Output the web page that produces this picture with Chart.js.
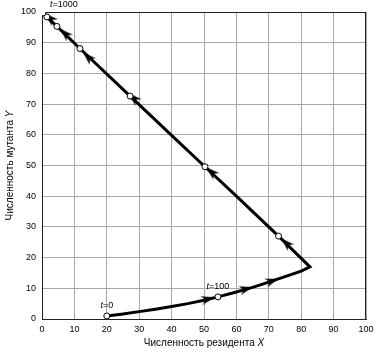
<!DOCTYPE html>
<html>
<head>
<meta charset="utf-8">
<script src="https://cdn.jsdelivr.net/npm/chart.js@4.4.1/dist/chart.umd.min.js"></script>
<style>
html,body{margin:0;padding:0;background:#fff;}
#wrap{width:382px;height:357px;position:relative;}
</style>
</head>
<body>
<div id="wrap"><canvas id="c"></canvas></div>
<script>
// Trajectory (resident X, mutant Y)
const trajX = [20, 25, 30, 35, 40, 45, 50, 54.3, 60, 65, 70, 75, 80, 82.7, 73, 60, 50.3, 40, 27.2, 11.7, 4.6, 1.5, 0.3];
const trajY = [1.0, 1.6, 2.4, 3.2, 4.1, 5.0, 6.1, 7.2, 8.8, 10.3, 12.0, 13.8, 15.6, 17.0, 27.0, 40.0, 49.6, 59.8, 72.6, 88.1, 95.3, 98.4, 99.7];
// Open-circle markers
const markX = [20, 54.3, 73, 50.3, 27.2, 11.7, 4.6, 1.5, 0.3];
const markY = [1.0, 7.2, 27.0, 49.6, 72.6, 88.1, 95.3, 98.4, 99.7];
// Arrowheads along the trajectory
const arrowX = [51.2, 63, 71, 75.4, 52.3, 28.3, 14.2, 7.1, 2.5];
const arrowY = [6.5, 9.8, 12.4, 24.7, 47.9, 72.0, 85.3, 93.0, 98.0];
// Time labels
const labelText = ['0', '100', '1000'];
const labelX = [20, 54.3, 0.3];
const labelY = [1.0, 7.2, 99.7];
// Axis ticks
const tickValues = [0, 10, 20, 30, 40, 50, 60, 70, 80, 90, 100];
const xTitle = 'Численность резидента ';
const xTitleVar = 'X';
const yTitle = 'Численность мутанта ';
const yTitleVar = 'Y';

const FONT = '"Liberation Sans", Arial, sans-serif';

// arrowhead image (points right)
const arrowImg = document.createElement('canvas');
arrowImg.width = 13; arrowImg.height = 9;
(function(){
  const g = arrowImg.getContext('2d');
  g.fillStyle = '#000';
  g.beginPath();
  g.moveTo(13, 4.5);
  g.lineTo(0, 0);
  g.lineTo(4, 4.5);
  g.lineTo(0, 9);
  g.closePath();
  g.fill();
})();

const traj = trajX.map((x, i) => ({x, y: trajY[i]}));
const marks = markX.map((x, i) => ({x, y: markY[i]}));
const arrows = arrowX.map((x, i) => ({x, y: arrowY[i]}));

function arrowRotation(ctx) {
  const chart = ctx.chart;
  const xs = chart.scales && chart.scales.x, ys = chart.scales && chart.scales.y;
  if (!xs || !ys || ctx.dataIndex === undefined) return 0;
  const p = arrows[ctx.dataIndex];
  if (!p) return 0;
  const px = xs.getPixelForValue(p.x), py = ys.getPixelForValue(p.y);
  if (!isFinite(px) || !isFinite(py)) return 0;
  let best = null, bestD = Infinity;
  for (let i = 0; i < traj.length - 1; i++) {
    const ax = xs.getPixelForValue(traj[i].x), ay = ys.getPixelForValue(traj[i].y);
    const bx = xs.getPixelForValue(traj[i+1].x), by = ys.getPixelForValue(traj[i+1].y);
    const dx = bx - ax, dy = by - ay;
    const L = dx*dx + dy*dy;
    let t = L ? ((px-ax)*dx + (py-ay)*dy) / L : 0;
    t = Math.max(0, Math.min(1, t));
    const qx = ax + t*dx, qy = ay + t*dy;
    const d = (qx-px)*(qx-px) + (qy-py)*(qy-py);
    if (d < bestD) { bestD = d; best = [dx, dy]; }
  }
  if (!best) return 0;
  return Math.atan2(best[1], best[0]) * 180 / Math.PI;
}

const decor = {
  id: 'decor',
  beforeDatasetsDraw(chart) {
    const {ctx, chartArea: a} = chart;
    ctx.save();
    ctx.strokeStyle = '#222';
    ctx.lineWidth = 1;
    ctx.strokeRect(a.left + 0.5, a.top + 0.5, a.right - a.left - 1, a.bottom - a.top);
    ctx.restore();
  },
  afterDatasetsDraw(chart) {
    const {ctx, chartArea: a} = chart;
    const xs = chart.scales.x, ys = chart.scales.y;
    ctx.save();
    ctx.textBaseline = 'middle';
    labelText.forEach((txt, i) => {
      const px = xs.getPixelForValue(labelX[i]), py = ys.getPixelForValue(labelY[i]);
      ctx.font = 'italic 9px ' + FONT;
      const wt = ctx.measureText('t').width;
      ctx.font = '9px ' + FONT;
      const wr = ctx.measureText('=' + txt).width;
      const w = wt + wr;
      let lx, ly;
      if (i === 2) { lx = px + 7; ly = py - 8; }
      else { lx = px - w / 2; ly = py - 10; }
      if (i === 2) {
        ctx.fillStyle = '#fff';
        ctx.fillRect(lx - 3, ly - 5, w + 6, 7);
      }
      ctx.fillStyle = '#000';
      ctx.textAlign = 'left';
      ctx.font = 'italic 9px ' + FONT;
      ctx.fillText('t', lx, ly);
      ctx.font = '9px ' + FONT;
      ctx.fillText('=' + txt, lx + wt, ly);
    });
    // axis titles
    ctx.fillStyle = '#000';
    ctx.font = '10px ' + FONT;
    const w1 = ctx.measureText(xTitle).width;
    ctx.font = 'italic 10px ' + FONT;
    const w2 = ctx.measureText(xTitleVar).width;
    const cx = (a.left + a.right) / 2;
    let sx = cx - (w1 + w2) / 2;
    ctx.textAlign = 'left';
    ctx.font = '10px ' + FONT;
    ctx.fillText(xTitle, sx, 343);
    ctx.font = 'italic 10px ' + FONT;
    ctx.fillText(xTitleVar, sx + w1, 343);

    ctx.translate(10, (a.top + a.bottom) / 2);
    ctx.rotate(-Math.PI / 2);
    ctx.font = '10px ' + FONT;
    const v1 = ctx.measureText(yTitle).width;
    ctx.font = 'italic 10px ' + FONT;
    const v2 = ctx.measureText(yTitleVar).width;
    let sy = -(v1 + v2) / 2;
    ctx.font = '10px ' + FONT;
    ctx.fillText(yTitle, sy, 0);
    ctx.font = 'italic 10px ' + FONT;
    ctx.fillText(yTitleVar, sy + v1, 0);
    ctx.restore();
  }
};

new Chart(document.getElementById('c'), {
  type: 'scatter',
  data: {
    datasets: [
      {
        data: marks,
        pointStyle: 'circle',
        pointRadius: 3,
        pointBackgroundColor: '#fff',
        pointBorderColor: '#000',
        pointBorderWidth: 1,
        showLine: false
      },
      {
        data: arrows,
        pointStyle: arrowImg,
        pointRotation: arrowRotation,
        showLine: false
      },
      {
        data: traj,
        showLine: true,
        borderColor: '#000',
        borderWidth: 3,
        pointRadius: 0,
        tension: 0,
        borderJoinStyle: 'miter'
      }
    ]
  },
  options: {
    responsive: true,
    maintainAspectRatio: false,
    animation: false,
    layout: {padding: {top: 12, right: 16, left: 0, bottom: 0}},
    plugins: {legend: {display: false}, tooltip: {enabled: false}},
    scales: {
      x: {
        type: 'linear', min: 0, max: 100,
        afterBuildTicks(s) { s.ticks = tickValues.map(v => ({value: v})); },
        afterFit(s) { s.height = 38; },
        grid: {color: '#a8a8a8', lineWidth: 1, drawTicks: false},
        border: {display: true, color: '#222'},
        ticks: {color: '#000', font: {family: FONT, size: 9}, padding: 5, maxRotation: 0}
      },
      y: {
        type: 'linear', min: 0, max: 100,
        afterBuildTicks(s) { s.ticks = tickValues.map(v => ({value: v})); },
        afterFit(s) { s.width = 42; },
        grid: {color: '#a8a8a8', lineWidth: 1, drawTicks: false},
        border: {display: true, color: '#222'},
        ticks: {color: '#000', font: {family: FONT, size: 9}, padding: 6}
      }
    }
  },
  plugins: [decor]
});
</script>
</body>
</html>
